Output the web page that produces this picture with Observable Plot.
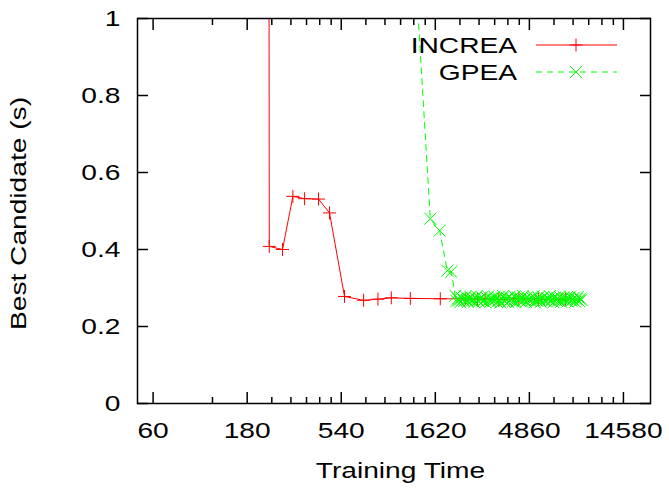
<!DOCTYPE html>
<html>
<head>
<meta charset="utf-8">
<script src="https://cdn.jsdelivr.net/npm/d3@7"></script>
<script src="https://cdn.jsdelivr.net/npm/@observablehq/plot@0.6"></script>
<style>
  html, body { margin: 0; padding: 0; background: #fff; }
  #chart { position: relative; width: 669px; height: 489px; }
</style>
</head>
<body>
<div id="chart"></div>
<script>
// ---- data ----
const seriesNames = ["INCREA", "GPEA"];
const increaX = [231, 233, 272, 307, 352, 414, 471, 561, 701, 829, 969, 1210, 1717, 2300, 2650, 2900, 3400, 4300, 5400, 7400];
const increaY = [2.5, 0.408, 0.400, 0.538, 0.532, 0.531, 0.495, 0.278, 0.268, 0.271, 0.2745, 0.273, 0.272, 0.272, 0.271, 0.272, 0.270, 0.272, 0.271, 0.271];
const gpeaX = [1224, 1528, 1704, 1864, 1953,
  2047, 2075, 2110, 2140, 2170, 2205, 2240, 2270, 2300, 2340,
  2370, 2405, 2440, 2480, 2510, 2550, 2590, 2625, 2660, 2700,
  2740, 2790, 2830, 2870, 2910, 2960, 3000, 3045, 3090, 3140,
  3180, 3230, 3280, 3330, 3370, 3420, 3470, 3530, 3580, 3630,
  3680, 3740, 3790, 3850, 3900, 3960, 4020, 4080, 4140, 4200,
  4260, 4330, 4390, 4460, 4520, 4590, 4660, 4730, 4800, 4870,
  4940, 5020, 5090, 5170, 5240, 5320, 5400, 5480, 5560, 5640,
  5720, 5810, 5900, 5990, 6080, 6170, 6260, 6350, 6440, 6540,
  6640, 6740, 6840, 6940, 7050, 7150, 7260, 7370, 7480, 7590,
  7700, 7820, 7940, 8060, 8180, 8300, 8430, 8560, 8690, 8820,
  8920];
const gpeaY = [1.3, 0.48, 0.449, 0.345, 0.342,
  0.280, 0.266, 0.273, 0.268, 0.263, 0.275, 0.270, 0.266, 0.278, 0.269,
  0.264, 0.272, 0.277, 0.267, 0.271, 0.263, 0.274, 0.279, 0.268, 0.265,
  0.272, 0.276, 0.266, 0.270, 0.263, 0.274, 0.278, 0.269, 0.265, 0.273,
  0.267, 0.277, 0.271, 0.264, 0.275, 0.268, 0.262, 0.273, 0.279, 0.266,
  0.270, 0.274, 0.264, 0.277, 0.269, 0.272, 0.266, 0.278, 0.263, 0.271,
  0.275, 0.268, 0.273, 0.265, 0.279, 0.270, 0.264, 0.276, 0.269, 0.272,
  0.266, 0.274, 0.278, 0.263, 0.271, 0.267, 0.276, 0.270, 0.264, 0.273,
  0.277, 0.268, 0.265, 0.274, 0.270, 0.279, 0.266, 0.272, 0.263, 0.275,
  0.269, 0.273, 0.267, 0.277, 0.264, 0.271, 0.276, 0.268, 0.274, 0.265,
  0.272, 0.278, 0.267, 0.270, 0.275, 0.264, 0.271, 0.277, 0.266, 0.273,
  0.269];
const xMajorTicks = [60, 180, 540, 1620, 4860, 14580];
const xMinorTicks = [120, 240, 300, 360, 420, 480, 720, 900, 1080, 1260, 1440, 2160, 2700, 3240, 3780, 4320, 6480, 8100, 9720, 11340, 12960];
const yTicks = [0, 0.2, 0.4, 0.6, 0.8, 1];
const xLabel = "Training Time";
const yLabel = "Best Candidate (s)";

const increa = increaX.map((x, i) => ({x, y: increaY[i]}));
const gpea = gpeaX.map((x, i) => ({x, y: gpeaY[i]}));

const RED = "#ff0000", GREEN = "#00ff00";
const FONT = "Liberation Sans, Arial, Helvetica, sans-serif";
const STRETCH = 1.28;

const blank = () => "";
const svg = Plot.plot({
  width: 669,
  height: 489,
  marginLeft: 137,
  marginRight: 19,
  marginTop: 18,
  marginBottom: 86,
  style: {fontFamily: FONT, fontSize: "22px", color: "#000", background: "#fff", overflow: "visible"},
  x: {type: "log", domain: [50, 20000]},
  y: {domain: [0, 1]},
  marks: [
    // tick labels
    Plot.text(xMajorTicks, {x: d => d, frameAnchor: "bottom", lineAnchor: "top", textAnchor: "middle", dy: 19, text: d => String(d), fontSize: 22}),
    Plot.axisY(yTicks, {anchor: "left", tickSize: 0, tickPadding: 17, tickFormat: d => String(d), label: null}),
    // inward ticks (mirrored)
    Plot.axisX(xMajorTicks, {anchor: "bottom", tickSize: -11, tickFormat: blank, label: null, strokeWidth: 1.5}),
    Plot.axisX(xMinorTicks, {anchor: "bottom", tickSize: -6, tickFormat: blank, label: null, strokeWidth: 1.5}),
    Plot.axisX(xMajorTicks, {anchor: "top", tickSize: -11, tickFormat: blank, label: null, strokeWidth: 1.5}),
    Plot.axisX(xMinorTicks, {anchor: "top", tickSize: -6, tickFormat: blank, label: null, strokeWidth: 1.5}),
    Plot.axisY(yTicks, {anchor: "left", tickSize: -11, tickFormat: blank, label: null, strokeWidth: 1.5}),
    Plot.axisY(yTicks, {anchor: "right", tickSize: -11, tickFormat: blank, label: null, strokeWidth: 1.5}),
    // axis titles
    Plot.text([xLabel], {frameAnchor: "bottom", lineAnchor: "top", textAnchor: "middle", dy: 59, dx: 6.5, text: d => d, fontSize: 22}),
    Plot.text([yLabel], {frameAnchor: "left", textAnchor: "middle", lineAnchor: "middle", rotate: -90, dx: -118.5, dy: 2.5, text: d => d, fontSize: 22}),
    // INCREA
    Plot.line(increa, {x: "x", y: "y", stroke: RED, strokeWidth: 1, clip: true}),
    Plot.dot(increa, {x: "x", y: "y", symbol: "plus", r: 4.26, stroke: RED, fill: "none", strokeWidth: 1, clip: true}),
    // GPEA
    Plot.line(gpea, {x: "x", y: "y", stroke: GREEN, strokeWidth: 1, strokeDasharray: "6,5", clip: true}),
    Plot.dot(gpea, {x: "x", y: "y", symbol: "times", r: 5.52, stroke: GREEN, fill: "none", strokeWidth: 1, clip: true}),
    Plot.frame({stroke: "#000", strokeWidth: 1.5})
  ]
});

// Legend (top right, inside the frame)
const g = d3.select(svg).append("g").attr("font-family", FONT).attr("font-size", 22);
const legendRows = [
  {name: seriesNames[0], color: RED, dash: null, symbol: d3.symbolPlus, size: 57},
  {name: seriesNames[1], color: GREEN, dash: "6,5", symbol: d3.symbolTimes, size: 96}
];
legendRows.forEach((r, i) => {
  const yy = 45 + i * 27;
  g.append("text").attr("transform", `translate(517,${yy})`).attr("text-anchor", "end").attr("dy", "0.35em").attr("fill", "#000").text(r.name);
  g.append("line").attr("x1", 536).attr("x2", 617).attr("y1", yy).attr("y2", yy)
    .attr("stroke", r.color).attr("stroke-width", 1).attr("stroke-dasharray", r.dash);
  g.append("path").attr("transform", `translate(576,${yy})`).attr("d", d3.symbol(r.symbol, r.size)())
    .attr("fill", "none").attr("stroke", r.color).attr("stroke-width", 1);
});

// horizontally widen all text like the reference's typeface
d3.select(svg).selectAll("text").each(function () {
  const t = this.getAttribute("transform");
  if (t) {
    this.setAttribute("transform", t + ` scale(${STRETCH},1)`);
  } else {
    const x = this.getAttribute("x") || 0, y = this.getAttribute("y") || 0;
    this.removeAttribute("x"); this.removeAttribute("y");
    this.setAttribute("transform", `translate(${x},${y}) scale(${STRETCH},1)`);
  }
});

document.getElementById("chart").appendChild(svg);
</script>
</body>
</html>
